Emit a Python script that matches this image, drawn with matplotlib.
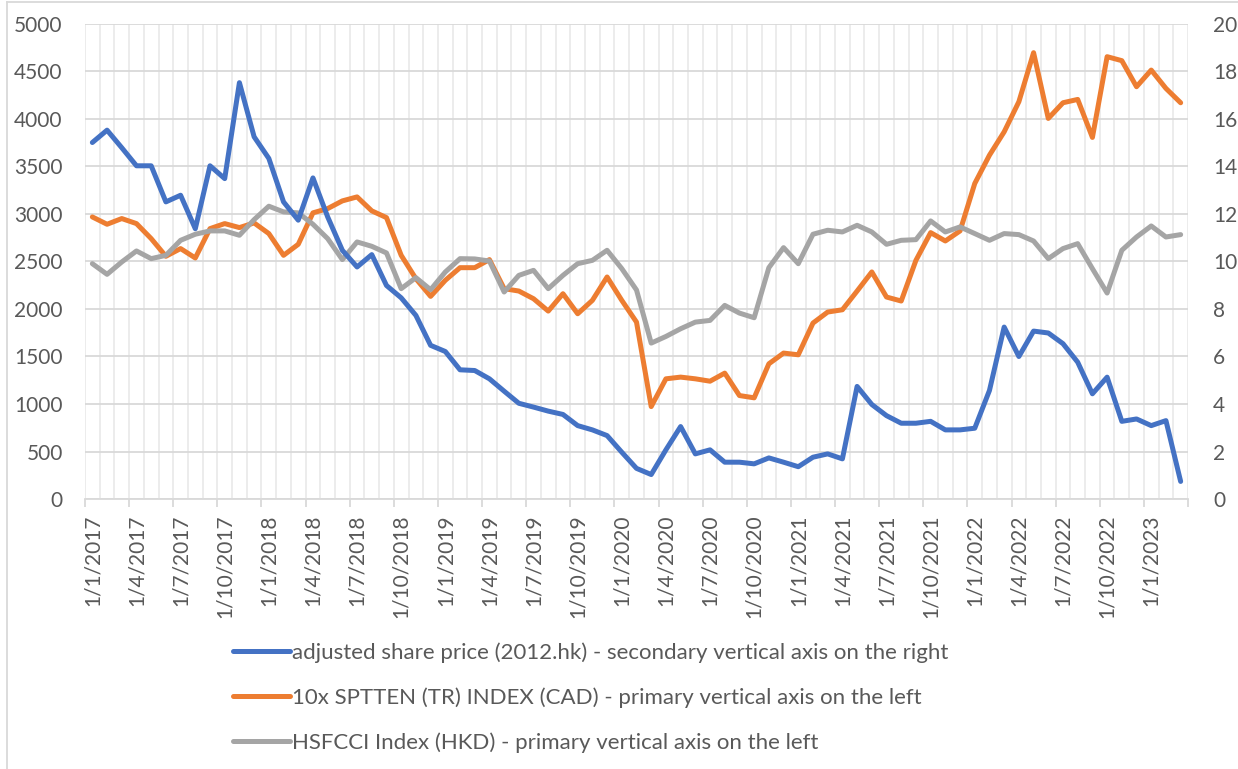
import matplotlib
matplotlib.use("Agg")
import matplotlib.pyplot as plt
from matplotlib.lines import Line2D
import numpy as np
import pandas as pd

plt.rcParams['font.family'] = ['Lato', 'DejaVu Sans']

# monthly observations, Jan 2017 .. Mar 2023
months = pd.date_range('2017-01-01', periods=75, freq='MS')
month_labels = [f"{d.day}/{d.month}/{d.year}" for d in months]

# adjusted share price (2012.hk) - right axis
share_price = [15.01, 15.53, 14.79, 14.03, 14.03, 12.51, 12.79, 11.38, 14.03, 13.49,
               17.53, 15.25, 14.34, 12.51, 11.74, 13.52, 11.88, 10.47, 9.77, 10.29,
               8.99, 8.47, 7.73, 6.47, 6.21, 5.44, 5.41, 5.06, 4.54, 4.03,
               3.87, 3.70, 3.56, 3.09, 2.91, 2.67, 1.97, 1.29, 1.03, 2.07,
               3.05, 1.90, 2.07, 1.55, 1.55, 1.48, 1.73, 1.55, 1.36, 1.76,
               1.90, 1.69, 4.74, 3.98, 3.51, 3.19, 3.19, 3.27, 2.91, 2.91,
               2.98, 4.57, 7.24, 6.00, 7.07, 6.99, 6.54, 5.76, 4.43, 5.13,
               3.27, 3.37, 3.09, 3.30, 0.74]

# 10x SPTTEN (TR) index - left axis
sptten = [2969, 2892, 2952, 2899, 2741, 2555, 2636, 2537, 2846, 2899,
          2857, 2906, 2794, 2565, 2681, 3012, 3057, 3138, 3180, 3033,
          2962, 2565, 2319, 2133, 2302, 2435, 2435, 2520, 2214, 2189,
          2108, 1978, 2161, 1950, 2091, 2337, 2091, 1862, 973, 1265,
          1283, 1265, 1240, 1325, 1089, 1065, 1423, 1536, 1518, 1852,
          1968, 1992, 2189, 2390, 2126, 2084, 2512, 2804, 2716, 2822,
          3321, 3619, 3865, 4182, 4698, 4006, 4171, 4206, 3806, 4656,
          4614, 4340, 4515, 4322, 4171]

# HSFCCI index - left axis
hsfcci = [2477, 2365, 2495, 2611, 2530, 2565, 2723, 2787, 2822, 2822,
          2776, 2941, 3082, 3022, 3012, 2892, 2741, 2520, 2706, 2660,
          2590, 2214, 2330, 2203, 2390, 2530, 2527, 2505, 2179, 2354,
          2407, 2214, 2354, 2477, 2512, 2618, 2425, 2200, 1641, 1711,
          1792, 1862, 1880, 2038, 1957, 1908, 2435, 2646, 2477, 2787,
          2829, 2811, 2881, 2811, 2681, 2723, 2730, 2927, 2811, 2864,
          2794, 2723, 2794, 2783, 2716, 2530, 2636, 2688, 2425, 2168,
          2618, 2758, 2874, 2758, 2783]

series_names = ["adjusted share price (2012.hk) - secondary vertical axis on the right",
                "10x SPTTEN (TR) INDEX (CAD) - primary vertical axis on the left",
                "HSFCCI Index (HKD) - primary vertical axis on the left"]

blue, orange, grey = '#4472C4', '#ED7D31', '#A5A5A5'
txt = '#595959'
lw = 3.6
x = np.arange(len(months))

W, H = 1238, 769
fig = plt.figure(figsize=(W / 100, H / 100), dpi=100)
ax = fig.add_axes([85 / W, 1 - 499 / H, 1103 / W, 475 / H])
ax2 = ax.twinx()

l2, = ax.plot(x, sptten, color=orange, lw=lw, solid_joinstyle='round', solid_capstyle='round')
l3, = ax.plot(x, hsfcci, color=grey, lw=lw, solid_joinstyle='round', solid_capstyle='round')
l1, = ax2.plot(x, share_price, color=blue, lw=lw, solid_joinstyle='round', solid_capstyle='round')

ax.set_xlim(-0.5, len(months) - 0.5)
ax.set_ylim(0, 5000)
ax2.set_ylim(0, 20)
ax.set_yticks(np.arange(0, 5001, 500))
ax2.set_yticks(np.arange(0, 21, 2))

# category labels every 3 months, gridlines at category edges
ax.set_xticks(x[::3])
ax.set_xticklabels(month_labels[::3], rotation=90)
ax.set_xticks(np.arange(-0.5, len(months), 1), minor=True)
ax.grid(which='minor', axis='x', color='#ebebeb', lw=1.3)
ax.grid(which='major', axis='y', color='#d9d9d9', lw=1.3)
ax.set_axisbelow(True)

ax.tick_params(axis='x', which='both', length=0, labelsize=15, labelcolor=txt, pad=11)
ax.tick_params(axis='y', length=0, labelsize=15, labelcolor=txt, pad=16)
ax2.tick_params(axis='y', length=0, labelsize=15, labelcolor=txt, pad=18)

for a in (ax, ax2):
    for s in a.spines.values():
        s.set_visible(False)

# tick marks between categories
sec = ax.secondary_xaxis('bottom')
sec.set_xticks(np.arange(-0.5, len(months), 3))
sec.tick_params(length=6, width=1.3, color='#d9d9d9', labelbottom=False)
sec.spines['bottom'].set_color('#d9d9d9')
sec.spines['bottom'].set_linewidth(1.3)

fig.legend([l1, l2, l3], series_names, loc='upper left',
           bbox_to_anchor=(233 / W, 1 - 642 / H), frameon=False,
           fontsize=16, labelcolor=txt, handlelength=2.55, handletextpad=0.12,
           labelspacing=1.1, borderpad=0, borderaxespad=0)

# chart border
fig.add_artist(Line2D([7 / W, 7 / W], [0, 1 - 2 / H], transform=fig.transFigure, color='#d9d9d9', lw=1.3))
fig.add_artist(Line2D([7 / W, 1], [1 - 2 / H, 1 - 2 / H], transform=fig.transFigure, color='#d9d9d9', lw=1.3))

plt.savefig('out.png', dpi=100)
